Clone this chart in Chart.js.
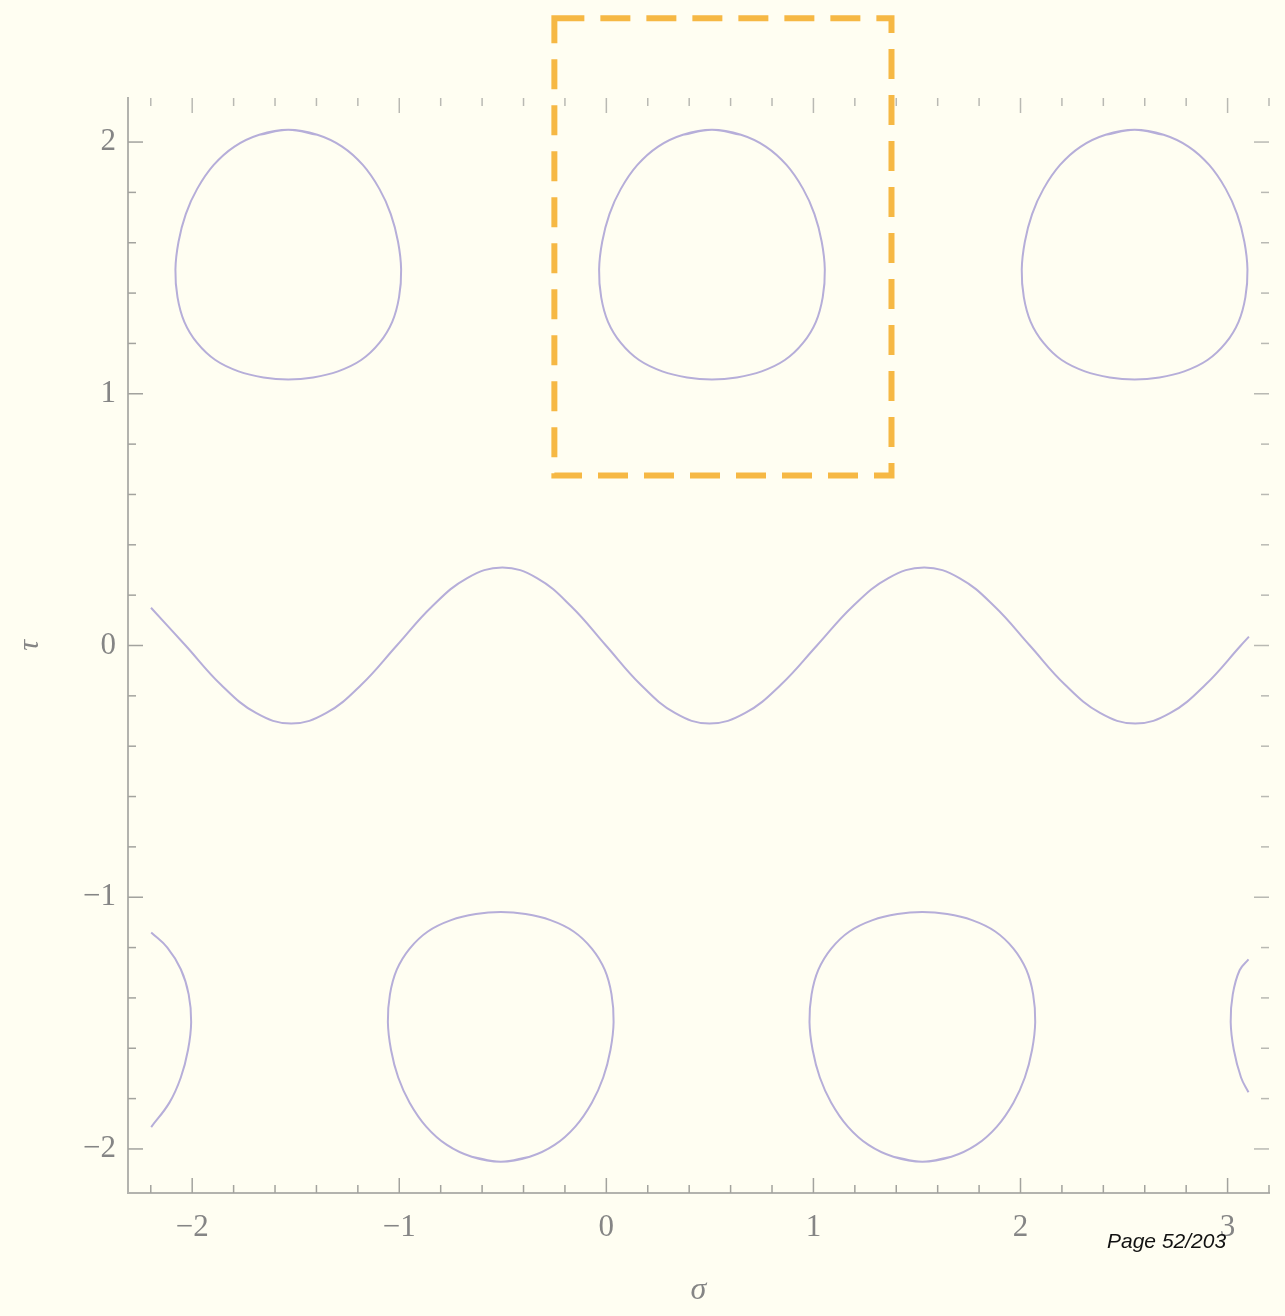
<!DOCTYPE html>
<html>
<head>
<meta charset="utf-8">
<script src="https://cdn.jsdelivr.net/npm/chart.js@4.4.1/dist/chart.umd.min.js"></script>
<style>
  html, body { margin: 0; padding: 0; background: #fffef2; overflow: hidden; }
  canvas { display: block; }
</style>
</head>
<body>
<canvas id="phase" width="1285" height="1316"></canvas>
<script>
// Axis ranges and labelled tick values
const sigmaRange = [-2.31, 3.2];
const tauRange = [-2.175, 2.175];
const sigmaTicks = [-2, -1, 0, 1, 2, 3];
const tauTicks = [-2, -1, 0, 1, 2];

// Open trajectory oscillating around tau = 0
const waveSigma = [-2.199, -2.032, -1.862, -1.692, -1.522, -1.352, -1.182, -1.012, -0.842, -0.672,
                   -0.502, -0.335, -0.169, -0.002, 0.165, 0.331, 0.498, 0.671, 0.844, 1.017,
                   1.189, 1.362, 1.535, 1.705, 1.875, 2.045, 2.214, 2.384, 2.554, 2.724,
                   2.894, 3.064, 3.103];
const waveTau   = [0.150, 0.000, -0.155, -0.268, -0.310, -0.268, -0.155, 0.000, 0.155, 0.268,
                   0.310, 0.268, 0.155, 0.000, -0.155, -0.268, -0.310, -0.268, -0.155, 0.000,
                   0.155, 0.268, 0.310, 0.268, 0.155, 0.000, -0.155, -0.268, -0.310, -0.268,
                   -0.155, 0.000, 0.035];

// Closed orbit outline (offsets from the orbit centre, upper-row orientation)
const orbitOutline = [
  [0.000, 0.495], [0.140, 0.475], [0.260, 0.428], [0.360, 0.355], [0.440, 0.260], [0.495, 0.160],
  [0.530, 0.050], [0.545, -0.060], [0.535, -0.170], [0.502, -0.268], [0.440, -0.352], [0.352, -0.420],
  [0.240, -0.465], [0.120, -0.489], [0.000, -0.497], [-0.120, -0.489], [-0.240, -0.465], [-0.352, -0.420],
  [-0.440, -0.352], [-0.502, -0.268], [-0.535, -0.170], [-0.545, -0.060], [-0.530, 0.050], [-0.495, 0.160],
  [-0.440, 0.260], [-0.360, 0.355], [-0.260, 0.428], [-0.140, 0.475]
];
const upperOrbitCentres = [[-1.536, 1.554], [0.510, 1.554], [2.551, 1.554]];
const lowerOrbitCentres = [[-0.510, -1.556], [1.526, -1.556]];

// Orbit pieces cut by the sigma domain edges
const leftArc = [[-2.198, -1.140], [-2.120, -1.200], [-2.055, -1.286], [-2.017, -1.386], [-2.005, -1.496],
                 [-2.020, -1.606], [-2.055, -1.716], [-2.110, -1.816], [-2.198, -1.913]];
const rightArc = [[3.101, -1.247], [3.058, -1.290], [3.025, -1.386], [3.015, -1.496],
                  [3.030, -1.606], [3.065, -1.716], [3.101, -1.775]];

// Dashed highlight frame around one orbit: [sigmaLeft, tauBottom, sigmaRight, tauTop]
const highlightBox = [-0.251, 0.675, 1.377, 2.492];

const curveColour = '#b6aed9';
const tickColour = '#a3a39e';
const labelColour = '#858585';

function closedOrbit(centre, flip) {
  const pts = orbitOutline.map(([ds, dt]) => ({ x: centre[0] + ds, y: centre[1] + (flip ? -dt : dt) }));
  // repeat neighbours at both ends so the join is drawn smoothly
  return [pts[pts.length - 1], ...pts, pts[0], pts[1]];
}

const lineStyle = { borderColor: curveColour, borderWidth: 2, pointRadius: 0, showLine: true, tension: 0.4, fill: false };

const datasets = [
  { ...lineStyle, data: waveSigma.map((s, i) => ({ x: s, y: waveTau[i] })) },
  ...upperOrbitCentres.map(c => ({ ...lineStyle, data: closedOrbit(c, false) })),
  ...lowerOrbitCentres.map(c => ({ ...lineStyle, data: closedOrbit(c, true) })),
  { ...lineStyle, data: leftArc.map(([x, y]) => ({ x, y })) },
  { ...lineStyle, data: rightArc.map(([x, y]) => ({ x, y })) }
];

const fmt = v => (v < 0 ? '\u2212' + Math.abs(v) : String(v));

// Inward frame ticks on all four sides
const frameTicks = {
  id: 'frameTicks',
  afterDraw(chart) {
    const { ctx, chartArea: a, scales: { x, y } } = chart;
    ctx.save();
    ctx.lineWidth = 1.5;
    const seg = (x1, y1, x2, y2) => { ctx.beginPath(); ctx.moveTo(x1, y1); ctx.lineTo(x2, y2); ctx.stroke(); };
    for (let k = Math.ceil(sigmaRange[0] / 0.2 - 1e-9); k * 0.2 <= sigmaRange[1] + 1e-9; k++) {
      const v = k * 0.2;
      const major = Math.abs(v - Math.round(v)) < 1e-6;
      const px = x.getPixelForValue(v);
      const len = major ? 15 : 8;
      ctx.strokeStyle = tickColour;
      seg(px, a.bottom, px, a.bottom - len);
      ctx.strokeStyle = '#b9b9b3';
      seg(px, a.top, px, a.top + len);
    }
    for (let k = Math.ceil(tauRange[0] / 0.2 - 1e-9); k * 0.2 <= tauRange[1] + 1e-9; k++) {
      const v = k * 0.2;
      const major = Math.abs(v - Math.round(v)) < 1e-6;
      const py = y.getPixelForValue(v);
      const len = major ? 15 : 8;
      ctx.strokeStyle = tickColour;
      seg(a.left, py, a.left + len, py);
      ctx.strokeStyle = '#b9b9b3';
      seg(a.right, py, a.right - len, py);
    }
    ctx.restore();
  }
};

// Dashed highlight frame and page marker
const overlay = {
  id: 'overlay',
  afterDraw(chart) {
    const { ctx, scales: { x, y } } = chart;
    const l = x.getPixelForValue(highlightBox[0]);
    const r = x.getPixelForValue(highlightBox[2]);
    const b = y.getPixelForValue(highlightBox[1]);
    const t = y.getPixelForValue(highlightBox[3]);
    ctx.save();
    ctx.strokeStyle = '#f6b844';
    ctx.lineWidth = 6;
    ctx.setLineDash([30, 16]);
    ctx.strokeRect(l, t, r - l, b - t);
    ctx.setLineDash([]);
    ctx.fillStyle = '#111';
    ctx.font = 'italic 21px "Liberation Sans", Arial, sans-serif';
    ctx.textAlign = 'left';
    ctx.textBaseline = 'alphabetic';
    ctx.fillText('Page 52/203', 1107, 1248);
    ctx.restore();
  }
};

new Chart(document.getElementById('phase'), {
  type: 'scatter',
  data: { datasets },
  plugins: [frameTicks, overlay],
  options: {
    responsive: false,
    animation: false,
    layout: { padding: { top: 98, right: 16, left: 0, bottom: 0 } },
    plugins: { legend: { display: false }, tooltip: { enabled: false } },
    scales: {
      x: {
        type: 'linear',
        min: sigmaRange[0],
        max: sigmaRange[1],
        afterFit: s => { s.height = 123; },
        afterBuildTicks: s => { s.ticks = sigmaTicks.map(v => ({ value: v })); },
        grid: { display: false, drawTicks: false },
        border: { display: true, color: '#b3b3ae', width: 2 },
        ticks: {
          autoSkip: false, maxRotation: 0, padding: 16, color: labelColour,
          font: { family: '"Liberation Serif", "DejaVu Serif", serif', size: 31 },
          callback: v => fmt(v)
        },
        title: {
          display: true, text: '\u03c3', color: labelColour,
          font: { family: '"Liberation Serif", "DejaVu Serif", serif', size: 32, style: 'italic' },
          padding: { top: 0, bottom: 6 }
        }
      },
      y: {
        type: 'linear',
        min: tauRange[0],
        max: tauRange[1],
        afterFit: s => { s.width = 128; },
        afterBuildTicks: s => { s.ticks = tauTicks.map(v => ({ value: v })); },
        grid: { display: false, drawTicks: false },
        border: { display: true, color: '#b3b3ae', width: 2 },
        ticks: {
          autoSkip: false, padding: 12, color: labelColour,
          font: { family: '"Liberation Serif", "DejaVu Serif", serif', size: 31 },
          callback: v => fmt(v)
        },
        title: {
          display: true, text: '\u03c4', color: labelColour,
          font: { family: '"Liberation Serif", "DejaVu Serif", serif', size: 30, style: 'italic' },
          padding: { top: 12, bottom: 0 }
        }
      }
    }
  }
});
</script>
</body>
</html>
